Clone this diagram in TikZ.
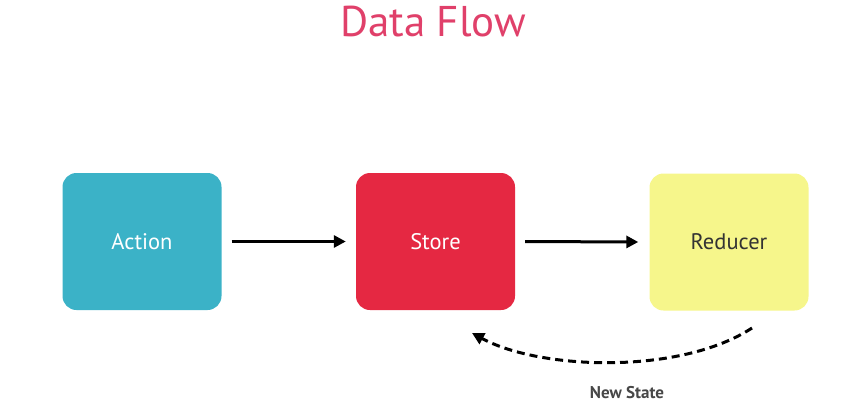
\documentclass[tikz,border=0pt]{standalone}
\usepackage{fontspec}
\setmainfont{PT Sans}
\usepackage{xcolor}
\usetikzlibrary{arrows.meta}

\definecolor{titlered}{HTML}{E0406A}
\definecolor{actionteal}{HTML}{3BB2C7}
\definecolor{storered}{HTML}{E52842}
\definecolor{reduceryellow}{HTML}{F6F68B}

\begin{document}
\begin{tikzpicture}[x=1pt, y=-1pt,
    box/.style={rounded corners=14pt, minimum width=159pt, minimum height=137pt,
      inner sep=0pt, font=\fontsize{22.5}{26}\selectfont},
    flow/.style={line width=3pt, -{Triangle[length=12pt, width=12pt]}}]
    \useasboundingbox (0, 0) rectangle (862, 410);
    \node[text=titlered, font=\fontsize{43}{48}\selectfont] (title) at (433, 22) {Data Flow};
    \node[box, fill=actionteal, text=white] (action) at (142, 241.5) {Action};
    \node[box, fill=storered, text=white] (store) at (435.5, 241.5) {Store};
    \node[box, fill=reduceryellow, text=black!80] (reducer) at (729, 242) {Reducer};
    \draw[flow] ([xshift=10pt]action.east) -- ([xshift=-10pt]store.west);
    \draw[flow] ([xshift=10pt]store.east) -- ([xshift=-11pt]reducer.west);
    \coordinate (back) at (752, 328);
    \coordinate (front) at (472, 333);
    \draw[flow, dash pattern=on 8pt off 5pt] (back) .. controls (680, 375) and (540, 370) .. (front);
    \node[font=\bfseries\fontsize{17}{20}\selectfont, text=black!72] (newstate) at (627, 393) {New State};
  \end{tikzpicture}
\end{document}
